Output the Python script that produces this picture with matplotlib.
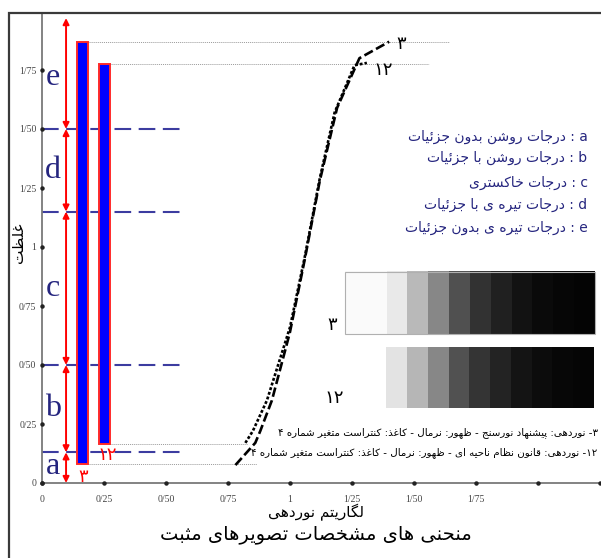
import re
import numpy as np
import matplotlib
matplotlib.use("Agg")
import matplotlib.pyplot as plt
from matplotlib.patches import Rectangle

# ---- data ----
x_ticks = [0, 0.25, 0.5, 0.75, 1.0, 1.25, 1.5, 1.75, 2.0, 2.25]
x_tick_labels = ['0', '0/25', '0/50', '0/75', '1', '1/25', '1/50', '1/75', '', '']
y_ticks = [0, 0.25, 0.5, 0.75, 1.0, 1.25, 1.5, 1.75]
y_tick_labels = ['0', '0/25', '0/50', '0/75', '1', '1/25', '1/50', '1/75']

bar_names = ['۳', '۱۲']
bar_x = [0.163, 0.252]
bar_bottom = [0.08, 0.165]
bar_top = [1.87, 1.775]
guide_top_end = [1.64, 1.56]
guide_bottom_end = [0.865, 0.83]

zone_bounds = [0, 0.13, 0.5, 1.15, 1.5, 1.97]
zone_names = ['a', 'b', 'c', 'd', 'e']
zone_desc = ['درجات روشن بدون جزئیات', 'درجات روشن با جزئیات', 'درجات خاکستری',
             'درجات تیره ی با جزئیات', 'درجات تیره ی بدون جزئیات']

curve3_x = [0.78, 0.86, 0.88, 0.927, 0.98, 1.0, 1.06, 1.12, 1.19, 1.28, 1.40]
curve3_y = [0.076, 0.17, 0.22, 0.35, 0.56, 0.64, 0.95, 1.28, 1.59, 1.80, 1.87]
curve12_x = [0.82, 0.85, 0.907, 0.97, 1.0, 1.06, 1.12, 1.18, 1.26, 1.31]
curve12_y = [0.17, 0.22, 0.35, 0.56, 0.66, 0.96, 1.29, 1.57, 1.77, 1.78]

strip3_gray = [250, 250, 233, 185, 135, 80, 50, 32, 18, 10, 6, 4]
strip12_gray = [255, 255, 228, 182, 135, 82, 52, 35, 20, 12, 7, 5]

captions = ['۳- نوردهی: پیشنهاد نورسنج - ظهور: نرمال - کاغذ: کنتراست متغیر شماره ۴',
            '۱۲- نوردهی: قانون نظام ناحیه ای - ظهور: نرمال - کاغذ: کنتراست متغیر شماره ۴']
x_label = 'لگاریتم نوردهی'
y_label = 'غلظت'
title = 'منحنی های مشخصات تصویرهای مثبت'

# ---- minimal Persian shaping (matplotlib has no complex text layout) ----
FORMS = {
    'ا': ('\uFE8D', '\uFE8E', None, None), 'آ': ('\uFE81', '\uFE82', None, None),
    'ب': ('\uFE8F', '\uFE90', '\uFE91', '\uFE92'), 'پ': ('\uFB56', '\uFB57', '\uFB58', '\uFB59'),
    'ت': ('\uFE95', '\uFE96', '\uFE97', '\uFE98'), 'ث': ('\uFE99', '\uFE9A', '\uFE9B', '\uFE9C'),
    'ج': ('\uFE9D', '\uFE9E', '\uFE9F', '\uFEA0'), 'چ': ('\uFB7A', '\uFB7B', '\uFB7C', '\uFB7D'),
    'ح': ('\uFEA1', '\uFEA2', '\uFEA3', '\uFEA4'), 'خ': ('\uFEA5', '\uFEA6', '\uFEA7', '\uFEA8'),
    'د': ('\uFEA9', '\uFEAA', None, None), 'ذ': ('\uFEAB', '\uFEAC', None, None),
    'ر': ('\uFEAD', '\uFEAE', None, None), 'ز': ('\uFEAF', '\uFEB0', None, None),
    'ژ': ('\uFB8A', '\uFB8B', None, None),
    'س': ('\uFEB1', '\uFEB2', '\uFEB3', '\uFEB4'), 'ش': ('\uFEB5', '\uFEB6', '\uFEB7', '\uFEB8'),
    'ص': ('\uFEB9', '\uFEBA', '\uFEBB', '\uFEBC'), 'ض': ('\uFEBD', '\uFEBE', '\uFEBF', '\uFEC0'),
    'ط': ('\uFEC1', '\uFEC2', '\uFEC3', '\uFEC4'), 'ظ': ('\uFEC5', '\uFEC6', '\uFEC7', '\uFEC8'),
    'ع': ('\uFEC9', '\uFECA', '\uFECB', '\uFECC'), 'غ': ('\uFECD', '\uFECE', '\uFECF', '\uFED0'),
    'ف': ('\uFED1', '\uFED2', '\uFED3', '\uFED4'), 'ق': ('\uFED5', '\uFED6', '\uFED7', '\uFED8'),
    'ک': ('\uFB8E', '\uFB8F', '\uFB90', '\uFB91'), 'گ': ('\uFB92', '\uFB93', '\uFB94', '\uFB95'),
    'ل': ('\uFEDD', '\uFEDE', '\uFEDF', '\uFEE0'), 'م': ('\uFEE1', '\uFEE2', '\uFEE3', '\uFEE4'),
    'ن': ('\uFEE5', '\uFEE6', '\uFEE7', '\uFEE8'), 'و': ('\uFEED', '\uFEEE', None, None),
    'ه': ('\uFEE9', '\uFEEA', '\uFEEB', '\uFEEC'), 'ی': ('\uFBFC', '\uFBFD', '\uFBFE', '\uFBFF'),
    'ئ': ('\uFE89', '\uFE8A', '\uFE8B', '\uFE8C'),
}


def fa(text):
    out = []
    n = len(text)
    for i, ch in enumerate(text):
        if ch not in FORMS:
            out.append(ch)
            continue
        prev = text[i - 1] if i > 0 else ''
        nxt = text[i + 1] if i < n - 1 else ''
        join_prev = prev in FORMS and FORMS[prev][2] is not None
        join_next = FORMS[ch][2] is not None and nxt in FORMS
        iso, fin, ini, med = FORMS[ch]
        if join_prev and join_next:
            out.append(med)
        elif join_prev:
            out.append(fin)
        elif join_next:
            out.append(ini)
        else:
            out.append(iso)
    vis = ''.join(out)[::-1]
    # keep digit / latin runs left to right
    return re.sub(r'[0-9۰-۹A-Za-z]+', lambda m: m.group(0)[::-1], vis)


FA = ['DejaVu Sans']
SERIF = ['Liberation Serif', 'DejaVu Serif']
NAVY = '#25257f'

fig = plt.figure(figsize=(6.01, 5.58), dpi=100)
fig.patches.append(Rectangle((9 / 601, -0.2), 1.2, 0.2 + 1 - 13 / 558, transform=fig.transFigure,
                             fill=False, edgecolor='#3a3a3a', lw=1.6, zorder=0))
ax = fig.add_axes([42 / 601, 1 - 483 / 558, 559 / 601, 469 / 558])
ax.set_xlim(0, 559 / 248)
ax.set_ylim(0, 469 / 236)
ax.patch.set_alpha(0)
for s in ['top', 'right']:
    ax.spines[s].set_visible(False)
for s in ['left', 'bottom']:
    ax.spines[s].set_color('#7a7a7a')
    ax.spines[s].set_linewidth(1.3)

ax.set_xticks(x_ticks)
ax.set_xticklabels(x_tick_labels, family=SERIF, fontsize=7, color='#444444')
ax.set_yticks(y_ticks)
ax.set_yticklabels(y_tick_labels, family=SERIF, fontsize=7, color='#444444')
ax.tick_params(axis='x', length=0, pad=9)
ax.tick_params(axis='y', length=0, pad=4)
ax.plot(x_ticks, [0] * len(x_ticks), 'o', color='#222222', ms=2.2, clip_on=False, zorder=5)
ax.plot([0] * len(y_ticks), y_ticks, 'o', color='#222222', ms=2.2, clip_on=False, zorder=5)

# zone boundaries
for y in zone_bounds[1:-1]:
    ax.plot([0, 0.56], [y, y], color='#3c3ca0', lw=1.5, dashes=(8, 3.6), zorder=2)

# red double arrows and zone letters
for i in range(len(zone_names)):
    y0, y1 = zone_bounds[i], zone_bounds[i + 1]
    ax.annotate('', xy=(0.097, y1), xytext=(0.097, y0),
                arrowprops=dict(arrowstyle='<|-|>', color='red', lw=1.4,
                                shrinkA=0, shrinkB=0, mutation_scale=9), zorder=4)
    yc = (y0 + y1) / 2 if i < 4 else 1.72
    if i == 0:
        yc = 0.07
    ax.text(0.045, yc, zone_names[i], family=SERIF, fontsize=23, color=NAVY,
            ha='center', va='center', zorder=5)

# bars
for i in range(2):
    ax.bar(bar_x[i], bar_top[i] - bar_bottom[i], bottom=bar_bottom[i], width=0.044,
           color='#0000ff', edgecolor='#ff2a2a', lw=1.4, zorder=3)
    ax.plot([bar_x[i] + 0.022, guide_top_end[i]], [bar_top[i]] * 2, color='#9a9a9a',
            lw=0.7, ls=(0, (1, 1)), zorder=1)
    ax.plot([bar_x[i] + 0.022, guide_bottom_end[i]], [bar_bottom[i]] * 2, color='#9a9a9a',
            lw=0.7, ls=(0, (1, 1)), zorder=1)
ax.text(0.165, 0.025, fa(bar_names[0]), family=FA, fontsize=13, color='red',
        ha='center', va='center', zorder=6)
ax.text(0.262, 0.12, fa(bar_names[1]), family=FA, fontsize=13, color='red',
        ha='center', va='center', zorder=6)

# characteristic curves
ax.plot(curve3_x, curve3_y, color='black', lw=1.9, dashes=(3.6, 1.4), zorder=4)
ax.plot(curve12_x, curve12_y, color='black', lw=1.9, dashes=(1.1, 0.75), zorder=4)
ax.text(1.45, 1.86, fa(bar_names[0]), family=FA, fontsize=13, ha='center', va='center')
ax.text(1.375, 1.75, fa(bar_names[1]), family=FA, fontsize=13, ha='center', va='center')

# legend of zones
legend_y = [1.466, 1.377, 1.271, 1.178, 1.08]
for i in range(5):
    ax.text(2.20, legend_y[i], fa(zone_names[i] + ' : ' + zone_desc[i]), family=FA,
            fontsize=10, color=NAVY, ha='right', va='center')

# gray step strips
ax.imshow(np.array(strip3_gray, dtype=float)[None, :], cmap='gray', vmin=0, vmax=255,
          extent=(1.222, 2.23, 0.631, 0.894), aspect='auto', interpolation='nearest', zorder=2)
ax.add_patch(Rectangle((1.222, 0.631), 2.23 - 1.222, 0.894 - 0.631, fill=False,
                       edgecolor='#b0b0b0', lw=0.8, zorder=3))
ax.imshow(np.array(strip12_gray, dtype=float)[None, :], cmap='gray', vmin=0, vmax=255,
          extent=(1.222, 2.225, 0.318, 0.576), aspect='auto', interpolation='nearest', zorder=2)
ax.text(1.17, 0.67, fa(bar_names[0]), family=FA, fontsize=13, ha='center', va='center')
ax.text(1.18, 0.36, fa(bar_names[1]), family=FA, fontsize=13, ha='center', va='center')

# captions
ax.text(2.24, 0.212, fa(captions[0]), family=FA, fontsize=7.4, ha='right', va='center')
ax.text(2.24, 0.131, fa(captions[1]), family=FA, fontsize=7.4, ha='right', va='center')

fig.text(316 / 601, 1 - 512 / 558, fa(x_label), family=FA, fontsize=11, ha='center', va='center')
fig.text(316 / 601, 1 - 535 / 558, fa(title), family=FA, fontsize=14, ha='center', va='center')
fig.text(18 / 601, 1 - 243 / 558, fa(y_label), family=FA, fontsize=11, rotation=90,
         ha='center', va='center')

fig.savefig('out.png', dpi=100)
